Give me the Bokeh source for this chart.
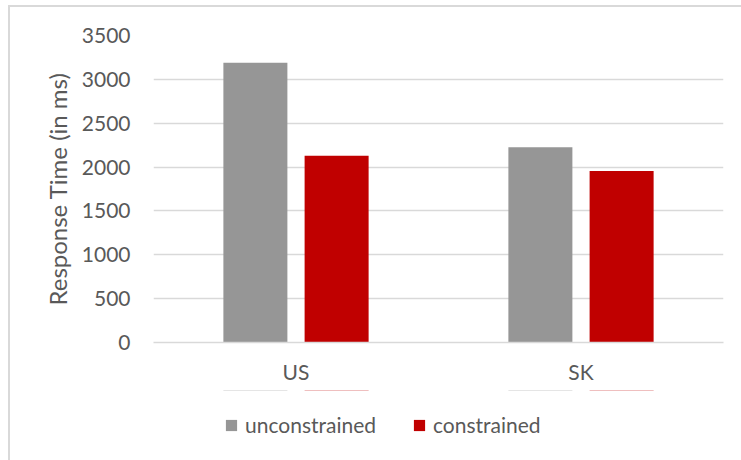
from bokeh.plotting import figure
from bokeh.layouts import column
from bokeh.models import (FactorRange, Range1d, FixedTicker, Legend, LegendItem,
                          ColumnDataSource)
from bokeh.transform import dodge
from bokeh.embed import file_html
from bokeh.resources import INLINE

regions = ["US", "SK"]
unconstrained = [3190, 2225]
constrained = [2130, 1955]
y_ticks = [0, 500, 1000, 1500, 2000, 2500, 3000, 3500]
series_names = ["unconstrained", "constrained"]
series_colors = ["#969696", "#C00000"]

FONT = "Lato"
TXT = "#595959"
GRID = "#d9d9d9"

src = ColumnDataSource(dict(region=regions, unconstrained=unconstrained, constrained=constrained))

p = figure(width=731, height=383,
           x_range=FactorRange(factors=regions, range_padding=0),
           y_range=Range1d(0, 3500),
           output_backend="svg", toolbar_location=None,
           min_border_left=143, min_border_right=18,
           min_border_top=28, min_border_bottom=48)

p.vbar(x=dodge("region", -0.1425, range=p.x_range), top="unconstrained",
       width=0.2246, source=src, fill_color=series_colors[0], line_color=None)
p.vbar(x=dodge("region", 0.1425, range=p.x_range), top="constrained",
       width=0.2246, source=src, fill_color=series_colors[1], line_color=None)

p.outline_line_color = None
p.xgrid.grid_line_color = None
p.ygrid.grid_line_color = GRID
p.ygrid.grid_line_width = 1.5

p.xaxis.axis_line_color = GRID
p.xaxis.axis_line_width = 1.5
p.xaxis.major_tick_line_color = None
p.xaxis.minor_tick_line_color = None
p.xaxis.major_tick_out = 0
p.xaxis.major_label_text_font = FONT
p.xaxis.major_label_text_font_size = "21px"
p.xaxis.major_label_text_color = TXT
p.xaxis.major_label_standoff = 16

p.yaxis.ticker = FixedTicker(ticks=y_ticks)
p.yaxis.axis_line_color = None
p.yaxis.major_tick_line_color = None
p.yaxis.minor_tick_line_color = None
p.yaxis.major_tick_out = 0
p.yaxis.major_label_standoff = 23
p.yaxis.major_label_text_font = FONT
p.yaxis.major_label_text_font_size = "21px"
p.yaxis.major_label_text_color = TXT
p.yaxis.axis_label = "Response Time (in ms)"
p.yaxis.axis_label_text_font = FONT
p.yaxis.axis_label_text_font_size = "24px"
p.yaxis.axis_label_text_font_style = "normal"
p.yaxis.axis_label_text_color = TXT
p.yaxis.axis_label_standoff = 7

# legend strip underneath the chart (same series, drawn outside its visible range)
p2 = figure(width=731, height=70, x_range=p.x_range, y_range=Range1d(-2, -1),
            x_axis_type=None, y_axis_type=None,
            output_backend="svg", toolbar_location=None,
            min_border=0, outline_line_color=None)
g1 = p2.vbar(x=dodge("region", -0.1425, range=p.x_range), top="unconstrained",
             width=0.2246, source=src, fill_color=series_colors[0], line_color=None)
g2 = p2.vbar(x=dodge("region", 0.1425, range=p.x_range), top="constrained",
             width=0.2246, source=src, fill_color=series_colors[1], line_color=None)

legend = Legend(items=[LegendItem(label=series_names[0], renderers=[g1]),
                       LegendItem(label=series_names[1], renderers=[g2])],
                orientation="horizontal", location=(71, 23),
                glyph_width=14, glyph_height=14, label_standoff=7, spacing=36,
                label_height=25,
                padding=0, margin=0, border_line_color=None,
                background_fill_alpha=0,
                label_text_font=FONT, label_text_font_size="21px",
                label_text_color=TXT)
p2.add_layout(legend)

layout = column(p, p2, spacing=0)
layout.styles = {"margin-left": "8px", "margin-top": "5px",
                 "border-left": "2px solid #d9d9d9", "border-top": "2px solid #d9d9d9"}

open("out.html", "w").write(file_html(layout, INLINE))
